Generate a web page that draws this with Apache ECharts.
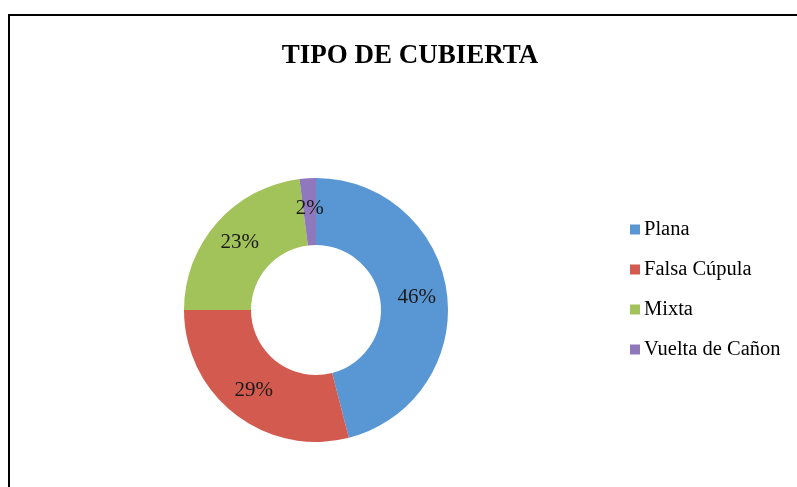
<!DOCTYPE html>
<html>
<head>
<meta charset="utf-8">
<title>Tipo de cubierta</title>
<script src="https://cdn.jsdelivr.net/npm/echarts@6.0.0/dist/echarts.min.js"></script>
<style>
  html, body { margin: 0; padding: 0; background: #fff; }
  #chart { width: 797px; height: 487px; }
</style>
</head>
<body>
<div id="chart"></div>
<script>
// datos del gráfico
const categorias = ['Plana', 'Falsa Cúpula', 'Mixta', 'Vuelta de Cañon'];
const porcentajes = [46, 29, 23, 2];
const colores = ['#5896D4', '#D25A4F', '#A2C25A', '#9078BC'];

const serif = '"Liberation Serif", "DejaVu Serif", serif';

const chart = echarts.init(document.getElementById('chart'));

chart.setOption({
  backgroundColor: '#fff',
  animation: false,
  title: {
    text: 'TIPO DE CUBIERTA',
    left: 405,
    top: 38,
    textAlign: 'center',
    textStyle: {
      fontFamily: serif,
      fontWeight: 'bold',
      fontSize: 27,
      color: '#000'
    }
  },
  // marco exterior
  graphic: [{
    type: 'rect',
    shape: { x: 9, y: 15, width: 800, height: 490 },
    style: { fill: 'none', stroke: '#000', lineWidth: 2 }
  }],
  legend: {
    orient: 'vertical',
    left: 625,
    top: 214,
    itemWidth: 10,
    itemHeight: 10,
    itemGap: 19,
    icon: 'rect',
    textStyle: {
      fontFamily: serif,
      fontSize: 20.5,
      lineHeight: 20,
      color: '#000',
      padding: [0, 0, 0, -1]
    },
    data: categorias
  },
  series: [{
    type: 'pie',
    center: [316, 310],
    radius: [65, 132],
    startAngle: 90,
    clockwise: true,
    avoidLabelOverlap: false,
    label: {
      show: true,
      position: 'inside',
      formatter: '{c}%',
      fontFamily: serif,
      fontSize: 21,
      color: '#1a1a1a',
      textBorderWidth: 0
    },
    labelLine: { show: false },
    emphasis: { disabled: true },
    data: categorias.map((nombre, i) => ({
      name: nombre,
      value: porcentajes[i],
      itemStyle: { color: colores[i] }
    }))
  }]
});
</script>
</body>
</html>
